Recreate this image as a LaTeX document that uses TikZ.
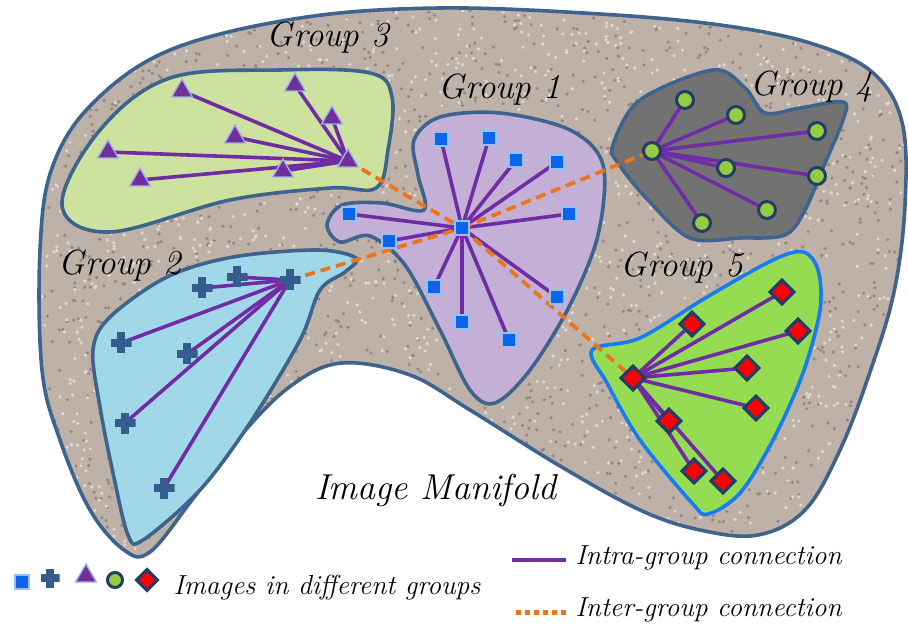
\documentclass[tikz,border=0pt]{standalone}
\usepackage{fontspec}
\usetikzlibrary{shapes.geometric}
\definecolor{grainbase}{RGB}{190,178,168}
\definecolor{graindark}{RGB}{150,136,126}
\definecolor{grainlight}{RGB}{224,217,210}
\definecolor{rimblue}{RGB}{62,100,142}
\definecolor{lavfill}{RGB}{196,176,214}
\definecolor{limefill}{RGB}{206,226,160}
\definecolor{skyfill}{RGB}{160,216,234}
\definecolor{slatefill}{RGB}{114,114,114}
\definecolor{grassfill}{RGB}{150,220,82}
\definecolor{brightrim}{RGB}{24,124,240}
\definecolor{sqblue}{RGB}{10,100,236}
\definecolor{sqrim}{RGB}{150,192,240}
\definecolor{crossblue}{RGB}{52,92,140}
\definecolor{triviolet}{RGB}{112,48,156}
\definecolor{tririm}{RGB}{160,176,226}
\definecolor{dotgreen}{RGB}{150,204,64}
\definecolor{navyrim}{RGB}{34,62,104}
\definecolor{intrapurple}{RGB}{112,44,164}
\definecolor{interorange}{RGB}{236,116,26}
\pgfdeclarelayer{bg}
\pgfdeclarelayer{links}
\pgfsetlayers{bg,links,main}
\newcommand{\manifoldpath}{plot[smooth cycle, tension=0.6] coordinates {
  (40,250) (52,168) (92,104) (170,50) (300,18) (440,8) (600,14) (720,25)
  (810,43) (872,72) (902,122) (905,205) (894,292) (870,372) (840,450)
  (805,510) (758,535) (700,530) (640,510) (560,466) (470,410) (410,375)
  (342,363) (292,385) (242,434) (192,500) (150,552) (124,550) (90,510)
  (60,440) (42,370)}}

\begin{document}
\begin{tikzpicture}[
    x=1pt, y=-1pt,
    grouptxt/.style={font=\fontsize{35}{40}\selectfont\itshape},
    legtxt/.style={font=\fontsize{27.5}{32}\selectfont\itshape, anchor=west},
    manifold/.style={fill=grainbase},
    rim/.style={draw=rimblue, line width=3.6},
    region/.style={rim, line join=round},
    imgsq/.style={rectangle, fill=sqblue, draw=sqrim, line width=1.4, minimum size=14, inner sep=0},
    imgcross/.style={rectangle, minimum size=21, inner sep=0,
      path picture={
        \fill[crossblue] ([xshift=-4pt]path picture bounding box.south) rectangle ([xshift=4pt]path picture bounding box.north);
        \fill[crossblue] ([yshift=-4pt]path picture bounding box.west) rectangle ([yshift=4pt]path picture bounding box.east);}},
    imgtri/.style={regular polygon, regular polygon sides=3, fill=triviolet, draw=tririm, line width=1.4, minimum size=24, inner sep=0},
    imgdot/.style={circle, fill=dotgreen, draw=navyrim, line width=3, minimum size=17, inner sep=0},
    imgdia/.style={diamond, fill=red, draw=navyrim, line width=3.2, minimum size=25, inner sep=0},
    intra/.style={draw=intrapurple, line width=3.6},
    inter/.style={draw=interorange, line width=3.8, dash pattern=on 10pt off 6pt},
]
\useasboundingbox (0,0) rectangle (908,628);

% manifold with a grainy fill
\begin{pgfonlayer}{bg}
  \fill[manifold] \manifoldpath;
  \begin{scope}
    \clip \manifoldpath;
    \pgfmathsetseed{17}
    \foreach \k in {1,...,2000}
      \fill[graindark] ({rnd*908},{rnd*560}) circle (1.8);
    \foreach \k in {1,...,1800}
      \fill[grainlight] ({rnd*908},{rnd*560}) circle (1.8);
  \end{scope}
  \draw[rim] \manifoldpath;

  % group regions
  \filldraw[region, fill=limefill] plot[smooth cycle, tension=0.6] coordinates {
    (62,205) (100,130) (170,78) (280,70) (370,73) (392,97) (388,150)
    (376,188) (330,188) (230,200) (110,232)};
  \filldraw[region, fill=lavfill] plot[smooth cycle, tension=0.55] coordinates {
    (414,140) (440,117) (500,113) (570,130) (603,165) (598,235) (570,305)
    (530,370) (495,403) (470,390) (440,330) (405,265) (370,236) (340,242)
    (327,225) (342,205) (382,203) (424,210) (418,175)};
  \filldraw[region, fill=skyfill] plot[smooth cycle, tension=0.55] coordinates {
    (110,317) (167,277) (233,257) (317,250) (356,258) (345,272) (320,290)
    (300,340) (250,423) (200,490) (143,540) (128,535) (113,473) (100,407)
    (93,350)};
  \filldraw[region, fill=slatefill] plot[smooth cycle, tension=0.55] coordinates {
    (613,145) (640,100) (713,70) (745,88) (765,113) (800,108) (843,102)
    (843,120) (822,170) (805,210) (785,235) (740,238) (690,238) (648,200)
    (618,163)};
  \filldraw[region, draw=brightrim, fill=grassfill] plot[smooth cycle, tension=0.55] coordinates {
    (592,350) (640,338) (707,297) (773,260) (803,252) (818,270) (820,310)
    (803,373) (773,440) (740,493) (708,514) (692,503) (640,440) (607,383)};
\end{pgfonlayer}

% Group 1: squares
\node[imgsq] (g1hub) at (462,228) {};
\foreach \x/\y [count=\i] in {441/139, 489/138, 516/160, 557/162, 569/214, 349/214,
    389/241, 434/287, 462/322, 509/340, 557/297}
  \node[imgsq] (g1-\i) at (\x,\y) {};

% Group 2: crosses
\node[imgcross] (g2hub) at (290,280) {};
\foreach \x/\y [count=\i] in {202/288, 237/277, 121/343, 187/354, 125/423, 164/488}
  \node[imgcross] (g2-\i) at (\x,\y) {};

% Group 3: triangles
\node[imgtri] (g3hub) at (348,161) {};
\foreach \x/\y [count=\i] in {182/91, 295/85, 332/118, 235/137, 108/152, 140/180, 283/171}
  \node[imgtri] (g3-\i) at (\x,\y) {};

% Group 4: circles
\node[imgdot] (g4hub) at (652,151) {};
\foreach \x/\y [count=\i] in {685/100, 736/115, 817/131, 726/168, 817/176, 767/210, 702/223}
  \node[imgdot] (g4-\i) at (\x,\y) {};

% Group 5: diamonds
\node[imgdia] (g5hub) at (633,378) {};
\foreach \x/\y [count=\i] in {782/292, 692/324, 798/331, 747/368, 756/408, 669/421,
    694/471, 723/481}
  \node[imgdia] (g5-\i) at (\x,\y) {};

% intra-group and inter-group links
\begin{pgfonlayer}{links}
  \foreach \i in {1,...,11} \draw[intra] (g1hub.center) -- (g1-\i.center);
  \foreach \i in {1,...,6}  \draw[intra] (g2hub.center) -- (g2-\i.center);
  \foreach \i in {1,...,7}  \draw[intra] (g3hub.center) -- (g3-\i.center);
  \foreach \i in {1,...,7}  \draw[intra] (g4hub.center) -- (g4-\i.center);
  \foreach \i in {1,...,8}  \draw[intra] (g5hub.center) -- (g5-\i.center);
  \draw[inter] (g3hub.center) -- (g1hub.center);
  \draw[inter] (g2hub.center) -- (g1hub.center);
  \draw[inter] (g1hub.center) -- (g4hub.center);
  \draw[inter] (g1hub.center) -- (g5hub.center);
\end{pgfonlayer}

% labels
\node[grouptxt] (lab3) at (328,38) {Group 3};
\node[grouptxt] (lab1) at (500,90) {Group 1};
\node[grouptxt] (lab4) at (812,87) {Group 4};
\node[grouptxt] (lab2) at (120,266) {Group 2};
\node[grouptxt] (lab5) at (682,268) {Group 5};
\node[font=\fontsize{36}{42}\selectfont\itshape] (manlab) at (436,490) {Image Manifold};

% legend
\node[imgsq] (keysq) at (22,582) {};
\node[imgcross, minimum size=19] (keycross) at (50,578) {};
\node[imgtri] (keytri) at (86,576) {};
\node[imgdot, minimum size=15] (keydot) at (115,580) {};
\node[imgdia, minimum size=22] (keydia) at (147,580) {};
\node[legtxt] (keyimg) at (170,588) {Images in different groups};
\coordinate (intraA) at (512,560);
\coordinate (intraB) at (566,560);
\draw[intra] (intraA) -- (intraB);
\node[legtxt] (keyintra) at (572,558) {Intra-group connection};
\coordinate (interA) at (516,612);
\coordinate (interB) at (566,612);
\draw[draw=interorange, line width=5, dash pattern=on 5pt off 4pt] (interA) -- (interB);
\node[legtxt] (keyinter) at (572,610) {Inter-group connection};
\end{tikzpicture}
\end{document}
